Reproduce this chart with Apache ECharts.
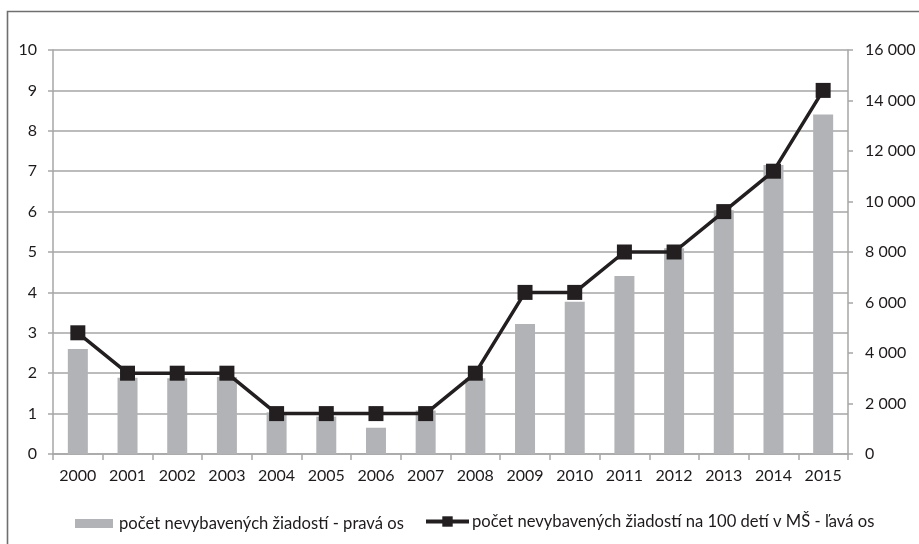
<!DOCTYPE html>
<html>
<head>
<meta charset="utf-8">
<script src="https://cdn.jsdelivr.net/npm/echarts@6/dist/echarts.min.js"></script>
<style>
  html, body { margin: 0; padding: 0; background: #ffffff; }
  #chart { width: 919px; height: 544px; }
</style>
</head>
<body>
<div id="chart"></div>
<script>
// Years on the category axis
const years = ['2000', '2001', '2002', '2003', '2004', '2005', '2006', '2007',
               '2008', '2009', '2010', '2011', '2012', '2013', '2014', '2015'];

// Unmet applications (right axis)
const unmetApplications = [4160, 3020, 3000, 3050, 1650, 1480, 1040, 1720,
                           3000, 5150, 6030, 7050, 8150, 9650, 11450, 13450];

// Unmet applications per 100 children in kindergartens (left axis)
const unmetPer100 = [3, 2, 2, 2, 1, 1, 1, 1, 2, 4, 4, 5, 5, 6, 7, 9];

const barName = 'počet nevybavených žiadostí - pravá os';
const lineName = 'počet nevybavených žiadostí na 100 detí v MŠ - ľavá os';

const FONT = 'Lato';
const FS = 16;
const LEGEND_FS = 16.6;
const TEXT = '#1e1a1b';
const GRID = '#a6a6a6';

const chart = echarts.init(document.getElementById('chart'), null, { renderer: 'canvas' });

chart.setOption({
  animation: false,
  backgroundColor: '#ffffff',
  textStyle: { fontFamily: FONT },
  graphic: [{
    type: 'polyline',
    shape: { points: [[7.5, 560], [7.5, 11.5], [940, 11.5]] },
    style: { stroke: '#6f6f6f', lineWidth: 1.6, fill: null },
    silent: true
  }],
  grid: { left: 53, right: 71, top: 50, bottom: 90, containLabel: false },
  legend: [{
    data: [{ name: barName, icon: 'rect' }],
    left: 70, top: 510,
    itemWidth: 38, itemHeight: 9, itemGap: 0,
    textStyle: { fontFamily: FONT, fontSize: LEGEND_FS, color: TEXT, padding: [0, 0, 0, 1] },
    selectedMode: false
  }, {
    data: [{ name: lineName }],
    left: 419, top: 508,
    itemWidth: 43, itemHeight: 13, itemGap: 0,
    lineStyle: { width: 4, color: '#231f20' },
    textStyle: { fontFamily: FONT, fontSize: LEGEND_FS, color: TEXT, padding: [0, 0, 0, -2] },
    selectedMode: false
  }],
  xAxis: {
    type: 'category',
    data: years,
    boundaryGap: true,
    axisLine: { lineStyle: { color: GRID, width: 1.5 } },
    axisTick: { show: true, length: 6, interval: 0, alignWithLabel: false, lineStyle: { color: GRID, width: 1.5 } },
    axisLabel: { fontFamily: FONT, fontSize: FS, color: TEXT, margin: 14, interval: 0 },
    splitLine: { show: false }
  },
  yAxis: [{
    type: 'value',
    position: 'left',
    min: 0, max: 10, interval: 1,
    axisLine: { show: true, lineStyle: { color: GRID, width: 1.5 } },
    axisTick: { show: true, length: 5, lineStyle: { color: GRID, width: 1.5 } },
    axisLabel: { fontFamily: FONT, fontSize: FS, color: TEXT, margin: 16 },
    splitLine: { show: true, lineStyle: { color: GRID, width: 1.5 } }
  }, {
    type: 'value',
    position: 'right',
    min: 0, max: 16000, interval: 2000,
    axisLine: { show: true, lineStyle: { color: GRID, width: 1.5 } },
    axisTick: { show: true, length: 5, lineStyle: { color: GRID, width: 1.5 } },
    axisLabel: {
      fontFamily: FONT, fontSize: FS, color: TEXT, margin: 17,
      formatter: v => String(v).replace(/\B(?=(\d{3})+(?!\d))/g, ' ')
    },
    splitLine: { show: false }
  }],
  series: [{
    name: barName,
    type: 'bar',
    yAxisIndex: 1,
    data: unmetApplications,
    barWidth: 20,
    itemStyle: { color: '#b2b3b6' },
    z: 2
  }, {
    name: lineName,
    type: 'line',
    yAxisIndex: 0,
    data: unmetPer100,
    symbol: 'rect',
    symbolSize: 15,
    lineStyle: { color: '#231f20', width: 3.5 },
    itemStyle: { color: '#231f20' },
    z: 3
  }]
});
</script>
</body>
</html>
